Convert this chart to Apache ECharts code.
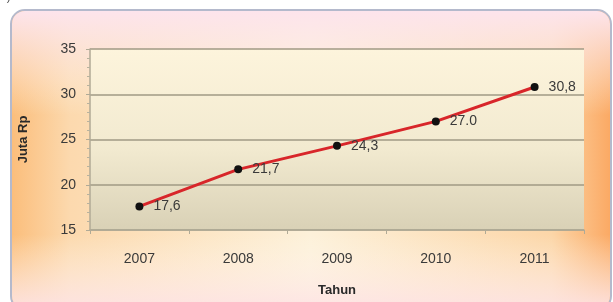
<!DOCTYPE html>
<html>
<head>
<meta charset="utf-8">
<script src="https://cdn.jsdelivr.net/npm/echarts@6/dist/echarts.min.js"></script>
<style>
  html, body { margin: 0; padding: 0; background: #fff; }
  #chart { width: 613px; height: 302px; }
</style>
</head>
<body>
<div id="chart"></div>
<script>
var years = ["2007", "2008", "2009", "2010", "2011"];
var values = [17.6, 21.7, 24.3, 27.0, 30.8];
var valueLabels = ["17,6", "21,7", "24,3", "27.0", "30,8"];

var font = "'Liberation Sans', Arial, sans-serif";

var chart = echarts.init(document.getElementById("chart"));

chart.setOption({
  animation: false,
  backgroundColor: "#ffffff",
  graphic: [
    {
      type: "text",
      left: 0,
      top: -9,
      style: { text: "2).", font: "12px " + font, fill: "#555" }
    },
    {
      // outer frame, orange edges
      type: "rect",
      shape: { x: 11, y: 10, width: 600, height: 300, r: 14 },
      style: {
        fill: new echarts.graphic.LinearGradient(0, 0, 1, 0, [
          { offset: 0, color: "#fbbd7a" },
          { offset: 0.1, color: "#fcd9ae" },
          { offset: 0.5, color: "#fdf1da" },
          { offset: 0.9, color: "#fcd6a8" },
          { offset: 1, color: "#fba862" }
        ]),
        stroke: "#b4b9cc",
        lineWidth: 2
      },
      z: -10
    },
    {
      // pink wash at top and bottom
      type: "rect",
      shape: { x: 12, y: 11, width: 598, height: 298, r: 13 },
      style: {
        fill: new echarts.graphic.LinearGradient(0, 0, 0, 1, [
          { offset: 0, color: "rgba(253,228,236,1)" },
          { offset: 0.15, color: "rgba(253,232,232,0.6)" },
          { offset: 0.35, color: "rgba(255,250,240,0)" },
          { offset: 0.75, color: "rgba(255,250,240,0)" },
          { offset: 1, color: "rgba(253,226,228,0.95)" }
        ])
      },
      z: -9
    }
  ],
  grid: {
    left: 90,
    right: 29,
    top: 49,
    bottom: 63,
    show: true,
    borderWidth: 0,
    backgroundColor: new echarts.graphic.LinearGradient(0, 0, 0, 1, [
      { offset: 0, color: "#fdf4dc" },
      { offset: 0.55, color: "#f2ead0" },
      { offset: 1, color: "#d9d1b6" }
    ])
  },
  xAxis: {
    type: "category",
    data: years,
    boundaryGap: true,
    name: "Tahun",
    nameLocation: "middle",
    nameGap: 54,
    nameTextStyle: { fontFamily: font, fontWeight: "bold", fontSize: 13, color: "#2a2a2a" },
    axisLine: { lineStyle: { color: "#b0aa96", width: 1.5 } },
    axisTick: { show: true, length: 4, lineStyle: { color: "#b0aa96" } },
    axisLabel: { margin: 22, fontFamily: font, fontSize: 14, color: "#3a3a3a" }
  },
  yAxis: {
    type: "value",
    min: 15,
    max: 35,
    interval: 5,
    name: "Juta Rp",
    nameLocation: "middle",
    nameGap: 60,
    nameTextStyle: { fontFamily: font, fontWeight: "bold", fontSize: 13, color: "#2a2a2a" },
    axisLine: { show: true, lineStyle: { color: "#b0aa96", width: 1.5 } },
    axisTick: { show: true, length: 4, lineStyle: { color: "#b0aa96" } },
    minorTick: { show: true, splitNumber: 5, length: 3, lineStyle: { color: "#b8b29e" } },
    axisLabel: { margin: 14, fontFamily: font, fontSize: 14, color: "#3a3a3a" },
    splitLine: { show: true, lineStyle: { color: "#a09a85", width: 1.5 } }
  },
  series: [
    {
      type: "line",
      data: values,
      symbol: "circle",
      symbolSize: 8,
      itemStyle: { color: "#111" },
      lineStyle: { color: "#d8262a", width: 3 },
      label: {
        show: true,
        position: "right",
        distance: 10,
        fontFamily: font,
        fontSize: 14,
        color: "#3a3a3a",
        formatter: function (p) { return valueLabels[p.dataIndex]; }
      },
      z: 3
    }
  ]
});
</script>
</body>
</html>
